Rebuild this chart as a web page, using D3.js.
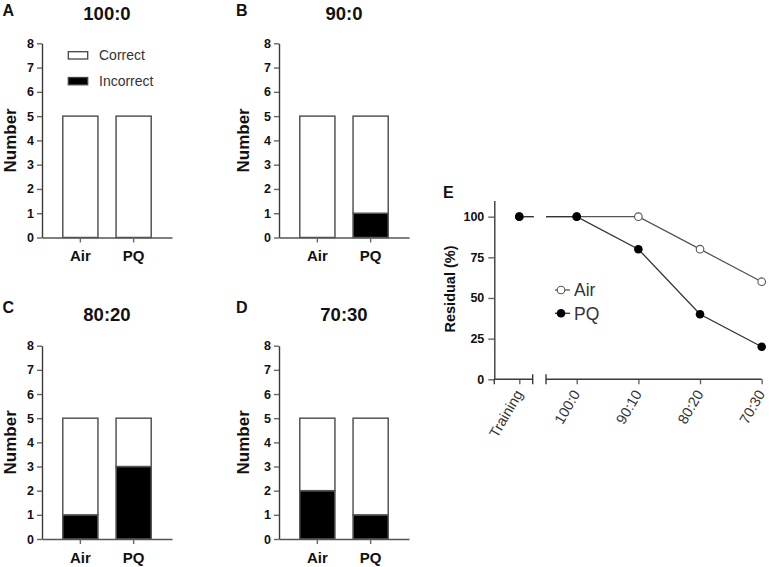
<!DOCTYPE html>
<html><head><meta charset="utf-8">
<script src="https://cdn.jsdelivr.net/npm/d3@7"></script>
<style>
body{margin:0;background:#fff;}
svg{display:block;font-family:"Liberation Sans",Arial,sans-serif;}
</style></head><body>
<svg id="chart" width="769" height="567"></svg>
<script>
// ---------- data ----------
const panelLetters = ["A","B","C","D"];
const panelTitles = ["100:0","90:0","80:20","70:30"];
const groups = ["Air","PQ"];
const correctAir = [5,5,4,3];
const incorrectAir = [0,0,1,2];
const correctPQ = [5,4,2,4];
const incorrectPQ = [0,1,3,1];
const numberTicks = [0,1,2,3,4,5,6,7,8];
const legendLabels = ["Correct","Incorrect"];

const conditions = ["Training","100:0","90:10","80:20","70:30"];
const residualAir = [100,100,100,80,60];
const residualPQ = [100,100,80,40,20];
const residualTicks = [0,25,50,75,100];
const seriesNames = ["Air","PQ"];

// ---------- layout ----------
const svg = d3.select("#chart");
const axisCol = "#3a3a3a";
const tickCol = "#666";
const barStroke = "#555";
const panelLayout = [
  {ax:42,  y0:237.5, y8:43.3,  labelDX:-32.5, letterX:2.5, letterY:16},
  {ax:279, y0:237.5, y8:43.3,  labelDX:-36,   letterX:236, letterY:16},
  {ax:42,  y0:539,   y8:345.7, labelDX:-32.5, letterX:2.5, letterY:313},
  {ax:279, y0:539,   y8:345.7, labelDX:-36,   letterX:236, letterY:313}
];
const axisW = 130;

function styleAxis(sel){
  sel.selectAll(".domain").attr("stroke",axisCol).attr("stroke-width",1.4);
  sel.selectAll(".tick line").attr("stroke",tickCol).attr("stroke-width",1.4);
}

panelTitles.forEach((title,i)=>{
  const L = panelLayout[i];
  const g = svg.append("g");
  const y = d3.scaleLinear().domain([0,8]).range([L.y0,L.y8]);
  const x = d3.scaleBand().domain(groups).range([L.ax,L.ax+axisW]).paddingInner(0.34).paddingOuter(0.39);

  // bars
  const rows = [
    {group:"Air", incorrect:incorrectAir[i], correct:correctAir[i]},
    {group:"PQ",  incorrect:incorrectPQ[i],  correct:correctPQ[i]}
  ];
  const stack = d3.stack().keys(["incorrect","correct"])(rows);
  stack.forEach(layer=>{
    g.append("g").selectAll("rect")
      .data(layer.filter(d=>d[1]-d[0]>0))
      .join("rect")
      .attr("x",d=>x(d.data.group))
      .attr("width",x.bandwidth())
      .attr("y",d=>y(d[1]))
      .attr("height",d=>y(d[0])-y(d[1]))
      .attr("fill",layer.key==="incorrect"?"#000":"#fff")
      .attr("stroke",barStroke)
      .attr("stroke-width",1.5);
  });

  // y axis
  const ya = g.append("g").attr("transform",`translate(${L.ax},0)`)
    .call(d3.axisLeft(y).tickValues(numberTicks).tickSize(5).tickSizeOuter(0).tickPadding(3).tickFormat(d3.format("d")));
  styleAxis(ya);
  ya.selectAll("text").attr("font-size",12.5).attr("font-weight","bold").attr("fill","#111").attr("font-family","Liberation Sans, Arial");

  // x axis
  const xa = g.append("g").attr("transform",`translate(0,${L.y0})`)
    .call(d3.axisBottom(x).tickSize(5).tickSizeOuter(0).tickPadding(8));
  styleAxis(xa);
  xa.select(".domain").attr("stroke","#555");
  xa.selectAll("text").attr("font-size",15).attr("font-weight","bold").attr("fill","#111").attr("font-family","Liberation Sans, Arial");

  // y label
  g.append("text")
    .attr("transform",`translate(${L.ax+L.labelDX},${(L.y0+L.y8)/2}) rotate(-90)`)
    .attr("text-anchor","middle").attr("dy","0.36em")
    .attr("font-size",17).attr("font-weight","bold").attr("fill","#111")
    .text("Number");

  // title
  g.append("text").attr("x",L.ax+65).attr("y",L.letterY+(i<2?4:7.7))
    .attr("text-anchor","middle").attr("font-size",18.5).attr("font-weight","bold").attr("fill","#111")
    .text(title);
  // letter
  g.append("text").attr("x",L.letterX).attr("y",L.letterY)
    .attr("font-size",16).attr("font-weight","bold").attr("fill","#111")
    .text(panelLetters[i]);
});

// legend in panel A
const legA = svg.append("g");
legendLabels.forEach((lab,k)=>{
  const ly = 51.7 + k*25.8;
  legA.append("rect").attr("x",68.3).attr("y",ly).attr("width",19.4).attr("height",7.3)
    .attr("fill",k===0?"#fff":"#000").attr("stroke","#444").attr("stroke-width",1.3);
  legA.append("text").attr("x",99).attr("y",ly+8.5)
    .attr("font-size",14).attr("fill","#333").text(lab);
});

// ---------- panel E ----------
const gE = svg.append("g");
const yE = d3.scaleLinear().domain([0,110]).range([379.3,200.4]);
const xE = d3.scaleLinear().domain([0,1,4]).range([519.3,576.7,761.7]);
const axisX0 = 494.3, brk1 = 532.7, brk2 = 546, axisX1 = 761.7;
const y0E = yE(0);

// y axis
const yaE = gE.append("g").attr("transform",`translate(${axisX0},0)`)
  .call(d3.axisLeft(yE).tickValues(residualTicks).tickSize(6).tickSizeOuter(0).tickPadding(4));
styleAxis(yaE);
yaE.selectAll("text").attr("font-size",12.5).attr("font-weight","bold").attr("fill","#111").attr("font-family","Liberation Sans, Arial");

// x axis (broken)
const xaE = gE.append("g").attr("transform",`translate(0,${y0E})`)
  .call(d3.axisBottom(xE).tickValues(d3.range(conditions.length)).tickFormat(k=>conditions[k]).tickSize(5).tickSizeOuter(0));
xaE.select(".domain").remove();
styleAxis(xaE);
xaE.selectAll("text")
  .attr("font-size",14.5).attr("fill","#333").attr("font-family","Liberation Sans, Arial")
  .attr("text-anchor","end")
  .attr("y",0).attr("dy","0.35em")
  .attr("transform","translate(-1,12) rotate(-60)");
const segs = [[axisX0,brk1],[brk2,axisX1]];
segs.forEach(s=>{
  gE.append("line").attr("x1",s[0]).attr("x2",s[1]).attr("y1",y0E).attr("y2",y0E)
    .attr("stroke",axisCol).attr("stroke-width",1.4);
});
[brk1,brk2].forEach(bx=>{
  gE.append("line").attr("x1",bx).attr("x2",bx).attr("y1",y0E-5).attr("y2",y0E+5)
    .attr("stroke",axisCol).attr("stroke-width",1.4);
});
gE.append("line").attr("x1",axisX0).attr("x2",axisX0).attr("y1",y0E).attr("y2",y0E+5)
  .attr("stroke",axisCol).attr("stroke-width",1.4);

// clip for broken lines
const defs = svg.append("defs");
const cp = defs.append("clipPath").attr("id","brk");
cp.append("rect").attr("x",0).attr("y",0).attr("width",brk1+1).attr("height",567);
cp.append("rect").attr("x",brk2).attr("y",0).attr("width",769-brk2).attr("height",567);

const line = d3.line().x((d,k)=>xE(k)).y(d=>yE(d));
gE.append("path").datum(residualAir).attr("d",line).attr("fill","none")
  .attr("stroke","#555").attr("stroke-width",1.3).attr("clip-path","url(#brk)");
gE.append("path").datum(residualPQ).attr("d",line).attr("fill","none")
  .attr("stroke","#333").attr("stroke-width",1.3).attr("clip-path","url(#brk)");

gE.append("g").selectAll("circle").data(residualAir).join("circle")
  .attr("cx",(d,k)=>xE(k)).attr("cy",d=>yE(d)).attr("r",3.8)
  .attr("fill","#fff").attr("stroke","#555").attr("stroke-width",1.1);
gE.append("g").selectAll("circle").data(residualPQ).join("circle")
  .attr("cx",(d,k)=>xE(k)).attr("cy",d=>yE(d)).attr("r",4.3)
  .attr("fill","#000");

// y label
gE.append("text").attr("transform","translate(450,289) rotate(-90)")
  .attr("text-anchor","middle").attr("dy","0.36em")
  .attr("font-size",14.5).attr("font-weight","bold").attr("fill","#111")
  .text("Residual (%)");
// letter
gE.append("text").attr("x",443).attr("y",198)
  .attr("font-size",16).attr("font-weight","bold").attr("fill","#111").text("E");

// legend E
seriesNames.forEach((nm,k)=>{
  const ly = 290 + k*23.3;
  gE.append("line").attr("x1",555).attr("x2",570).attr("y1",ly).attr("y2",ly)
    .attr("stroke",k===0?"#555":"#333").attr("stroke-width",1.3);
  gE.append("circle").attr("cx",561).attr("cy",ly).attr("r",k===0?3.8:4.3)
    .attr("fill",k===0?"#fff":"#000").attr("stroke",k===0?"#555":"none").attr("stroke-width",1.1);
  gE.append("text").attr("x",574).attr("y",ly+6.3).attr("font-size",17.5).attr("fill","#333").text(nm);
});
</script>
</body></html>
